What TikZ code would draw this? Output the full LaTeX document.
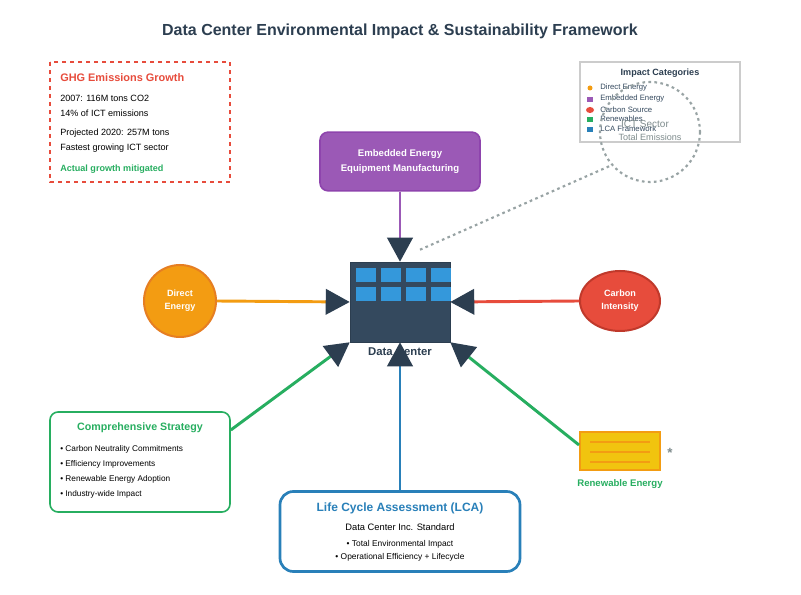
\documentclass[tikz,border=0pt]{standalone}
\usepackage{fontspec}
\setmainfont{Liberation Sans}
\usetikzlibrary{arrows.meta,shapes.geometric}
\definecolor{dark}{HTML}{2C3E50}
\definecolor{dc}{HTML}{34495E}
\definecolor{win}{HTML}{3498DB}
\definecolor{org}{HTML}{F39C12}
\definecolor{orgb}{HTML}{E67E22}
\definecolor{rd}{HTML}{E74C3C}
\definecolor{rdb}{HTML}{C0392B}
\definecolor{pur}{HTML}{9B59B6}
\definecolor{purb}{HTML}{8E44AD}
\definecolor{grn}{HTML}{27AE60}
\definecolor{blu}{HTML}{2980B9}
\definecolor{yel}{HTML}{F1C40F}
\definecolor{gtxt}{HTML}{7F8C8D}
\newcommand{\fs}[1]{\fontsize{#1}{#1}\selectfont}
\tikzset{
 x=0.75pt,y=-0.75pt,
 conn/.style={line width=2.2pt,arrows={-{Triangle[length=18pt,width=19pt,color=dark]}}},
 txt/.style={inner sep=0pt,anchor=west,text=black},
 item/.style={txt,font=\fs{6.8}},
 leg/.style={txt,font=\fs{5.8},text=dc},
 dots/.style={gtxt!80,line width=1.6pt,dash pattern=on 2pt off 2.5pt},
}
\begin{document}
\begin{tikzpicture}
\useasboundingbox (0,0) rectangle (801,595);
\fill[white] (0,0) rectangle (801,595);
\node[font=\bfseries\fs{12},text=dark] (title) at (400,31) {Data Center Environmental Impact \& Sustainability Framework};
% GHG box
\draw[rd,dashed,line width=1pt] (50,62) rectangle (230,182);
\node[txt,font=\bfseries\fs{8.2},text=rd] (g0) at (60,78) {GHG Emissions Growth};
\node[item] (g1) at (60,98) {2007: 116M tons CO2};
\node[item] (g2) at (60,113) {14\% of ICT emissions};
\node[item] (g3) at (60,133) {Projected 2020: 257M tons};
\node[item] (g4) at (60,148) {Fastest growing ICT sector};
\node[item,font=\bfseries\fs{6.8},text=grn] (g5) at (60,169) {Actual growth mitigated};
% legend
\draw[gray!40,fill=white,line width=1.2pt] (580,62) rectangle (740,142);
\node[font=\bfseries\fs{6.8},text=dark] (lt) at (660,73) {Impact Categories};
\fill[org] (590,88) circle (2.5);
\fill[pur] (587,97) rectangle (593,102);
\fill[rd] (590,110) ellipse (4 and 3);
\fill[grn] (587,117) rectangle (593,122);
\fill[blu] (587,127) rectangle (593,132);
\node[leg] (l1) at (600,88) {Direct Energy};
\node[leg] (l2) at (600,99) {Embedded Energy};
\node[leg] (l3) at (600,110) {Carbon Source};
\node[leg] (l4) at (600,119) {Renewables};
\node[leg] (l5) at (600,129) {LCA Framework};
\draw[dots] (650,132) circle (50);
\node[font=\fs{7.5},text=gtxt] (ict) at (645,124) {ICT Sector};
\node[font=\fs{6.8},text=gtxt] (tot) at (650,137) {Total Emissions};
\coordinate (ictend) at (612,165);
% embedded
\node[draw=purb,fill=pur,line width=1.2pt,rounded corners=6pt,minimum width=120pt,minimum height=44pt,text=white,font=\bfseries\fs{7.2},align=center] (emb) at (400,161.5) {Embedded Energy\\[4pt]Equipment Manufacturing};
% data center
\node[draw=dark,fill=dc,minimum width=75pt,minimum height=60pt,inner sep=0pt] (dc) at (400,302) {};
\foreach \c in {356,381,406,431}{\foreach \r in {268,287}{\fill[win] (\c,\r) rectangle ++(20,14);}}
\node[font=\bfseries\fs{8.5},text=dark] (dcl) at (400,352) {Data Center};
\draw[dots] (dc.north)++(20,-12) coordinate (dcs) -- (ictend);
% direct
\node[circle,draw=orgb,fill=org,line width=1.5pt,minimum size=54pt,text=white,font=\bfseries\fs{6.8},align=center] (de) at (180,301) {Direct\\[3pt]Energy};
\node[ellipse,draw=rdb,fill=rd,line width=1.5pt,minimum width=60pt,minimum height=45pt,text=white,font=\bfseries\fs{6.8},align=center] (ci) at (620,301) {Carbon\\[3pt]Intensity};
% strategy
\node[draw=grn,line width=1.2pt,rounded corners=6pt,minimum width=135pt,minimum height=75pt,fill=white] (cs) at (140,462) {};
\node[font=\bfseries\fs{8},text=grn] (cst) at (140,428) {Comprehensive Strategy};
\foreach \t/\y in {Carbon Neutrality Commitments/449,Efficiency Improvements/464,Renewable Energy Adoption/479,Industry-wide Impact/494}
  \node[item,font=\fs{6.2}] at (60,\y) {• \t};
% LCA
\node[draw=blu,line width=2pt,rounded corners=10pt,minimum width=180pt,minimum height=60pt,fill=white] (lca) at (400,531.5) {};
\node[font=\bfseries\fs{9},text=blu] (lcat) at (400,508) {Life Cycle Assessment (LCA)};
\node[font=\fs{7},text=black] (lca1) at (400,527) {Data Center Inc. Standard};
\node[font=\fs{6.3},text=black] (lca2) at (400,544) {• Total Environmental Impact};
\node[font=\fs{6.3},text=black] (lca3) at (400,557) {• Operational Efficiency + Lifecycle};
% renewable
\node[draw=org,fill=yel,line width=1.5pt,minimum width=60pt,minimum height=28.5pt,inner sep=0pt] (re) at (620,451) {};
\foreach \y in {442,452,462}\draw[org,line width=1.2pt] (590,\y) -- (650,\y);
\node[font=\bfseries\fs{7.2},text=grn] (rel) at (620,484) {Renewable Energy};
\node[font=\bfseries\fs{10},text=gtxt] (sym) at (670,453) {*};
% connectors
\draw[conn,pur] (emb.south) -- (dc.north);
\draw[conn,org] (de.east) -- (dc.west);
\draw[conn,rd] (ci.west) -- (dc.east);
\draw[conn,blu] (lca.north) -- (dc.south);
\draw[conn,grn] (cs.east|-0,430) coordinate (csa) -- (dc.south west);
\draw[conn,grn] (re.west|-0,445) coordinate (rea) -- (dc.south east);
\end{tikzpicture}
\end{document}
